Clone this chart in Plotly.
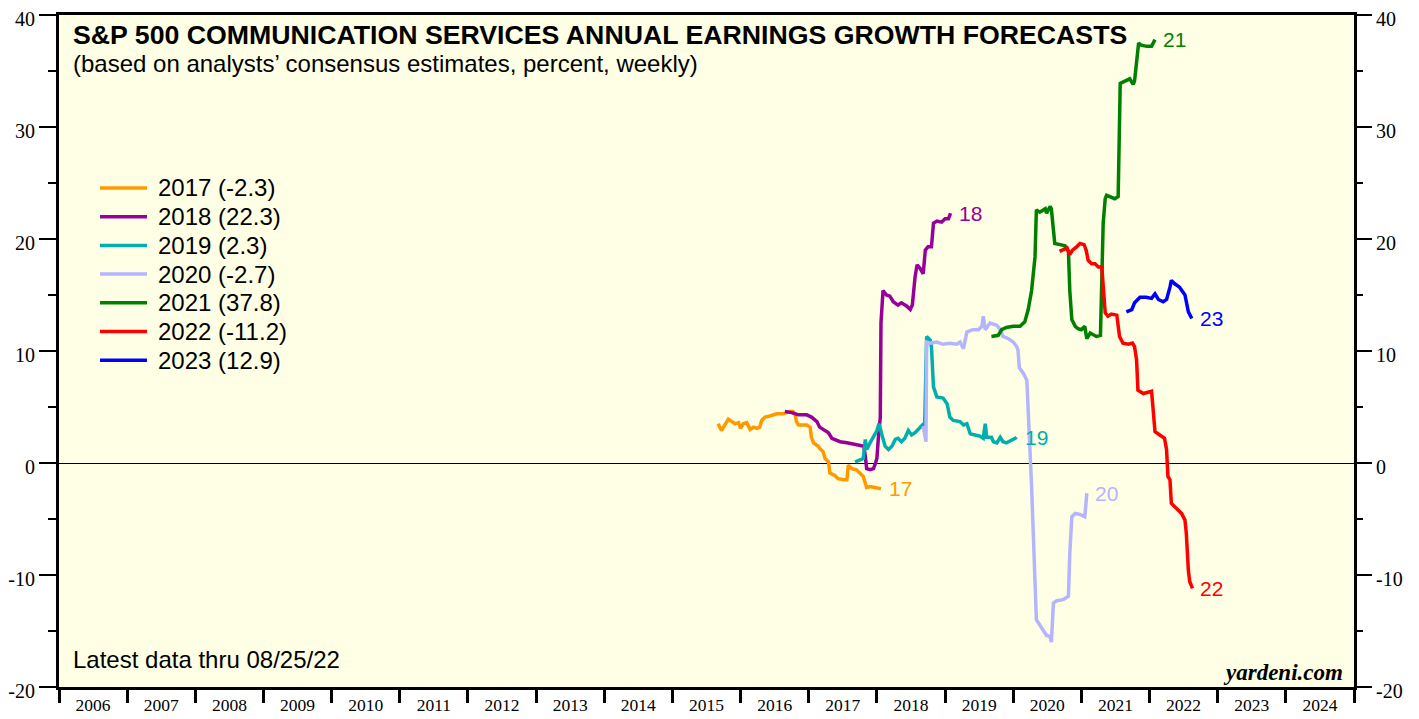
import plotly.graph_objects as go

# forecast series: [decimal year, percent]
fc_2017 = [[2015.67, 3.5], [2015.72, 2.9], [2015.77, 3.4], [2015.82, 3.9], [2015.87, 3.7], [2015.92, 3.5],
           [2015.97, 3.6], [2016.00, 3.1], [2016.04, 3.5], [2016.09, 3.6], [2016.14, 3.0], [2016.19, 3.2],
           [2016.24, 3.1], [2016.28, 3.2], [2016.31, 3.8], [2016.36, 4.1], [2016.43, 4.2], [2016.53, 4.4],
           [2016.63, 4.4], [2016.72, 4.6], [2016.77, 4.6], [2016.80, 4.3], [2016.82, 3.7], [2016.85, 3.4],
           [2016.97, 3.4], [2017.02, 3.2], [2017.04, 2.3], [2017.07, 1.8], [2017.14, 1.5], [2017.16, 1.3],
           [2017.21, 1.0], [2017.24, 0.4], [2017.29, 0.1], [2017.31, -0.9], [2017.38, -1.1], [2017.43, -1.4],
           [2017.51, -1.5], [2017.56, -1.5], [2017.58, -0.2], [2017.63, -0.5], [2017.70, -0.6], [2017.75, -0.9],
           [2017.80, -1.2], [2017.83, -1.8], [2017.85, -2.2], [2017.90, -2.1], [2018.00, -2.2], [2018.06, -2.3]]
fc_2018 = [[2016.65, 4.6], [2016.75, 4.5], [2016.85, 4.3], [2016.97, 4.3], [2017.04, 4.1], [2017.12, 3.7],
           [2017.16, 3.2], [2017.24, 2.9], [2017.29, 2.7], [2017.34, 2.2], [2017.38, 2.1], [2017.46, 1.9],
           [2017.56, 1.8], [2017.70, 1.6], [2017.81, 1.5], [2017.83, 0.6], [2017.85, -0.5], [2017.90, -0.6],
           [2017.95, -0.5], [2017.98, 0.0], [2018.00, 0.4], [2018.02, 2.1], [2018.05, 4.1], [2018.06, 12.5],
           [2018.09, 15.4], [2018.14, 15.0], [2018.19, 14.9], [2018.24, 14.4], [2018.31, 14.1], [2018.36, 14.3],
           [2018.44, 14.0], [2018.49, 13.7], [2018.52, 14.1], [2018.56, 16.6], [2018.59, 17.7], [2018.63, 17.4],
           [2018.68, 16.9], [2018.71, 19.0], [2018.75, 19.3], [2018.80, 19.3], [2018.83, 21.4], [2018.88, 21.6],
           [2018.95, 21.5], [2019.00, 21.8], [2019.05, 21.8], [2019.08, 22.3]]
fc_2019 = [[2017.68, 0.1], [2017.75, 0.3], [2017.80, 0.4], [2017.83, 2.1], [2017.85, 1.2], [2017.90, 1.8],
           [2017.95, 2.3], [2018.00, 2.9], [2018.03, 3.5], [2018.07, 2.7], [2018.12, 1.5], [2018.17, 1.2],
           [2018.22, 1.5], [2018.27, 2.1], [2018.31, 2.2], [2018.36, 1.9], [2018.41, 2.2], [2018.46, 2.9],
           [2018.51, 2.5], [2018.56, 2.7], [2018.63, 3.1], [2018.67, 3.4], [2018.70, 3.2], [2018.73, 11.3],
           [2018.78, 11.0], [2018.80, 10.4], [2018.83, 6.8], [2018.88, 5.9], [2018.97, 5.8], [2019.03, 5.3],
           [2019.07, 4.1], [2019.12, 3.8], [2019.22, 3.7], [2019.27, 3.4], [2019.32, 3.5], [2019.37, 2.6],
           [2019.44, 2.5], [2019.51, 2.4], [2019.56, 2.2], [2019.59, 3.5], [2019.61, 2.3], [2019.68, 2.3],
           [2019.71, 1.9], [2019.76, 1.8], [2019.81, 2.3], [2019.85, 1.9], [2019.90, 1.8], [2019.98, 2.0],
           [2020.03, 2.2], [2020.05, 2.3]]
fc_2020 = [[2018.68, 3.3], [2018.72, 1.9], [2018.73, 10.8], [2018.78, 10.7], [2018.88, 10.8], [2018.97, 10.6],
           [2019.07, 10.7], [2019.17, 10.6], [2019.22, 10.8], [2019.27, 10.2], [2019.32, 11.7], [2019.41, 11.9],
           [2019.49, 11.9], [2019.54, 12.2], [2019.56, 13.1], [2019.59, 11.9], [2019.66, 12.5], [2019.76, 12.3],
           [2019.81, 11.9], [2019.85, 11.3], [2019.93, 11.1], [2020.00, 10.8], [2020.05, 10.4], [2020.07, 10.1],
           [2020.09, 8.5], [2020.15, 8.0], [2020.20, 7.4], [2020.27, -2.1], [2020.34, -14.0], [2020.39, -14.5],
           [2020.44, -14.9], [2020.49, -15.4], [2020.54, -15.5], [2020.56, -16.0], [2020.59, -12.5],
           [2020.64, -12.3], [2020.73, -12.2], [2020.81, -11.9], [2020.83, -8.1], [2020.86, -4.8],
           [2020.91, -4.5], [2020.98, -4.6], [2021.05, -4.8], [2021.08, -2.7]]
fc_2021 = [[2019.68, 11.3], [2019.78, 11.4], [2019.83, 11.9], [2019.90, 12.1], [2020.00, 12.2], [2020.10, 12.2],
           [2020.17, 12.6], [2020.22, 13.7], [2020.27, 15.4], [2020.32, 18.4], [2020.34, 22.6], [2020.39, 22.4],
           [2020.47, 22.7], [2020.49, 22.3], [2020.54, 22.9], [2020.56, 22.7], [2020.59, 20.8], [2020.61, 19.6],
           [2020.69, 19.5], [2020.76, 19.4], [2020.81, 18.9], [2020.83, 15.4], [2020.86, 12.8], [2020.91, 12.2],
           [2020.95, 12.0], [2021.00, 11.9], [2021.05, 12.2], [2021.08, 11.1], [2021.13, 11.6], [2021.17, 11.5],
           [2021.22, 11.3], [2021.28, 11.4], [2021.30, 15.4], [2021.32, 21.4], [2021.35, 23.6], [2021.37, 23.9],
           [2021.49, 23.6], [2021.54, 23.8], [2021.57, 33.9], [2021.64, 34.1], [2021.71, 34.3], [2021.76, 33.8],
           [2021.78, 34.1], [2021.84, 37.5], [2021.88, 37.3], [2021.96, 37.2], [2022.03, 37.2], [2022.08, 37.8]]
fc_2022 = [[2020.68, 18.9], [2020.73, 19.0], [2020.79, 19.2], [2020.83, 18.6], [2020.87, 19.0], [2020.93, 19.3],
           [2020.98, 19.6], [2021.04, 19.5], [2021.07, 19.0], [2021.10, 18.1], [2021.15, 17.8], [2021.20, 17.8],
           [2021.25, 17.5], [2021.30, 17.5], [2021.32, 15.4], [2021.35, 13.4], [2021.39, 13.1], [2021.44, 13.3],
           [2021.52, 13.2], [2021.56, 11.3], [2021.61, 10.7], [2021.69, 10.6], [2021.75, 10.7], [2021.78, 10.4],
           [2021.81, 9.2], [2021.83, 6.5], [2021.91, 6.2], [2022.03, 6.4], [2022.05, 5.0], [2022.08, 2.8],
           [2022.15, 2.5], [2022.22, 2.2], [2022.25, 1.2], [2022.27, -1.2], [2022.30, -1.5], [2022.32, -3.6],
           [2022.37, -3.9], [2022.42, -4.2], [2022.47, -4.5], [2022.52, -5.1], [2022.54, -6.3], [2022.57, -9.6],
           [2022.59, -10.6], [2022.63, -11.2]]
fc_2023 = [[2021.66, 13.5], [2021.74, 13.7], [2021.78, 14.3], [2021.86, 14.8], [2021.95, 14.8], [2022.03, 14.7],
           [2022.08, 15.1], [2022.13, 14.6], [2022.20, 14.4], [2022.25, 14.6], [2022.30, 15.7], [2022.32, 16.3],
           [2022.37, 16.0], [2022.44, 15.7], [2022.52, 15.0], [2022.54, 14.3], [2022.57, 13.5], [2022.62, 12.9]]

series = [fc_2017, fc_2018, fc_2019, fc_2020, fc_2021, fc_2022, fc_2023]
legend_names = ["2017 (-2.3)", "2018 (22.3)", "2019 (2.3)", "2020 (-2.7)", "2021 (37.8)", "2022 (-11.2)", "2023 (12.9)"]
end_labels = ["17", "18", "19", "20", "21", "22", "23"]
colors = ["#FF9900", "#990099", "#00AEAE", "#B4B4FF", "#008000", "#FF0000", "#0000FF"]

year_labels = [str(y) for y in range(2006, 2025)]
y_ticks = [-20, -10, 0, 10, 20, 30, 40]
y_tick_text = ["-20", "-10", "0", "10", "20", "30", "40"]

SANS = "Liberation Sans, Arial, sans-serif"
SERIF = "Liberation Serif, Times New Roman, serif"

# the page body has an 8px margin, so the figure is drawn a bit smaller and shifted
PAGE_OFF = 8
W, H = 1419 - PAGE_OFF, 719 - PAGE_OFF
# plot area in page pixels
L, R, T, B = 59, 1354, 15, 687


def px_x(px):
    return (px - L) / (R - L)


def px_y(py):
    return (B - py) / (B - T)


fig = go.Figure()

for i, (data, name, lab, col) in enumerate(zip(series, legend_names, end_labels, colors)):
    xs = [p[0] for p in data]
    ys = [p[1] for p in data]
    fig.add_trace(go.Scatter(x=xs, y=ys, mode="lines", name=name, showlegend=False,
                             line=dict(color=col, width=3.5)))
    fig.add_annotation(x=xs[-1], y=ys[-1], text=lab, showarrow=False,
                       xanchor="left", yanchor="middle", xshift=6,
                       font=dict(family=SANS, size=21, color=col))
    # legend row
    row_y = px_y(188 + i * 28.7)
    fig.add_shape(type="line", xref="paper", yref="paper", x0=px_x(100), x1=px_x(147), y0=row_y, y1=row_y,
                  line=dict(color=col, width=3.5))
    fig.add_annotation(xref="paper", yref="paper", x=px_x(156), y=row_y, text=name, showarrow=False,
                       xanchor="left", yanchor="middle", font=dict(family=SANS, size=24, color="black"))

# dummy trace so the right axis gets drawn
fig.add_trace(go.Scatter(x=[2006], y=[0], yaxis="y2", mode="markers",
                         marker=dict(opacity=0), showlegend=False, hoverinfo="skip"))

fig.add_annotation(xref="paper", yref="paper", x=px_x(71), y=px_y(35), xanchor="left", yanchor="middle",
                   text="<b>S&P 500 COMMUNICATION SERVICES ANNUAL EARNINGS GROWTH FORECASTS</b>",
                   showarrow=False, font=dict(family=SANS, size=26.7, color="black"))
fig.add_annotation(xref="paper", yref="paper", x=px_x(71), y=px_y(64), xanchor="left", yanchor="middle",
                   text="(based on analysts\u2019 consensus estimates, percent, weekly)",
                   showarrow=False, font=dict(family=SANS, size=24, color="black"))
fig.add_annotation(xref="paper", yref="paper", x=px_x(71), y=px_y(659), xanchor="left", yanchor="middle",
                   text="Latest data thru 08/25/22",
                   showarrow=False, font=dict(family=SANS, size=24, color="black"))
fig.add_annotation(xref="paper", yref="paper", x=px_x(1345), y=px_y(672), xanchor="right", yanchor="middle",
                   text="<b><i>yardeni.com</i></b>",
                   showarrow=False, font=dict(family=SERIF, size=23, color="black"))

yaxis_common = dict(range=[-20, 40], tickmode="array", tickvals=y_ticks, ticktext=y_tick_text,
                    ticks="outside", ticklen=17, tickwidth=2, tickcolor="black",
                    minor=dict(tickmode="array", tickvals=[-15, -5, 5, 15, 25, 35], ticks="outside",
                               ticklen=8, tickwidth=2, tickcolor="black"),
                    showgrid=False, tickfont=dict(family=SERIF, size=20, color="black"),
                    ticklabelshift=4, ticklabeloverflow="allow", automargin=False, fixedrange=True)

fig.update_layout(
    width=W, height=H,
    margin=dict(l=L - PAGE_OFF, r=W - (R - PAGE_OFF), t=T - PAGE_OFF, b=H - (B - PAGE_OFF), autoexpand=False),
    paper_bgcolor="white",
    plot_bgcolor="#FFFFE5",
    xaxis=dict(range=[2006, 2025], tickmode="array",
               tickvals=[y + 0.5 for y in range(2006, 2025)], ticktext=year_labels,
               ticks="", showgrid=False, zeroline=False, automargin=False, ticklabeloverflow="allow",
               minor=dict(tickmode="array", tickvals=list(range(2006, 2026)), ticks="outside",
                          ticklen=13, tickwidth=3, tickcolor="black"),
               showline=True, linewidth=3, linecolor="black", mirror=True,
               tickfont=dict(family=SERIF, size=17.5, color="black")),
    yaxis=dict(**yaxis_common, side="left", showline=True, linewidth=3, linecolor="black", mirror=True,
               zeroline=True, zerolinecolor="black", zerolinewidth=1),
    yaxis2=dict(**yaxis_common, side="right", overlaying="y", zeroline=False, showline=False),
    showlegend=False,
)

fig.write_html("out.html")
